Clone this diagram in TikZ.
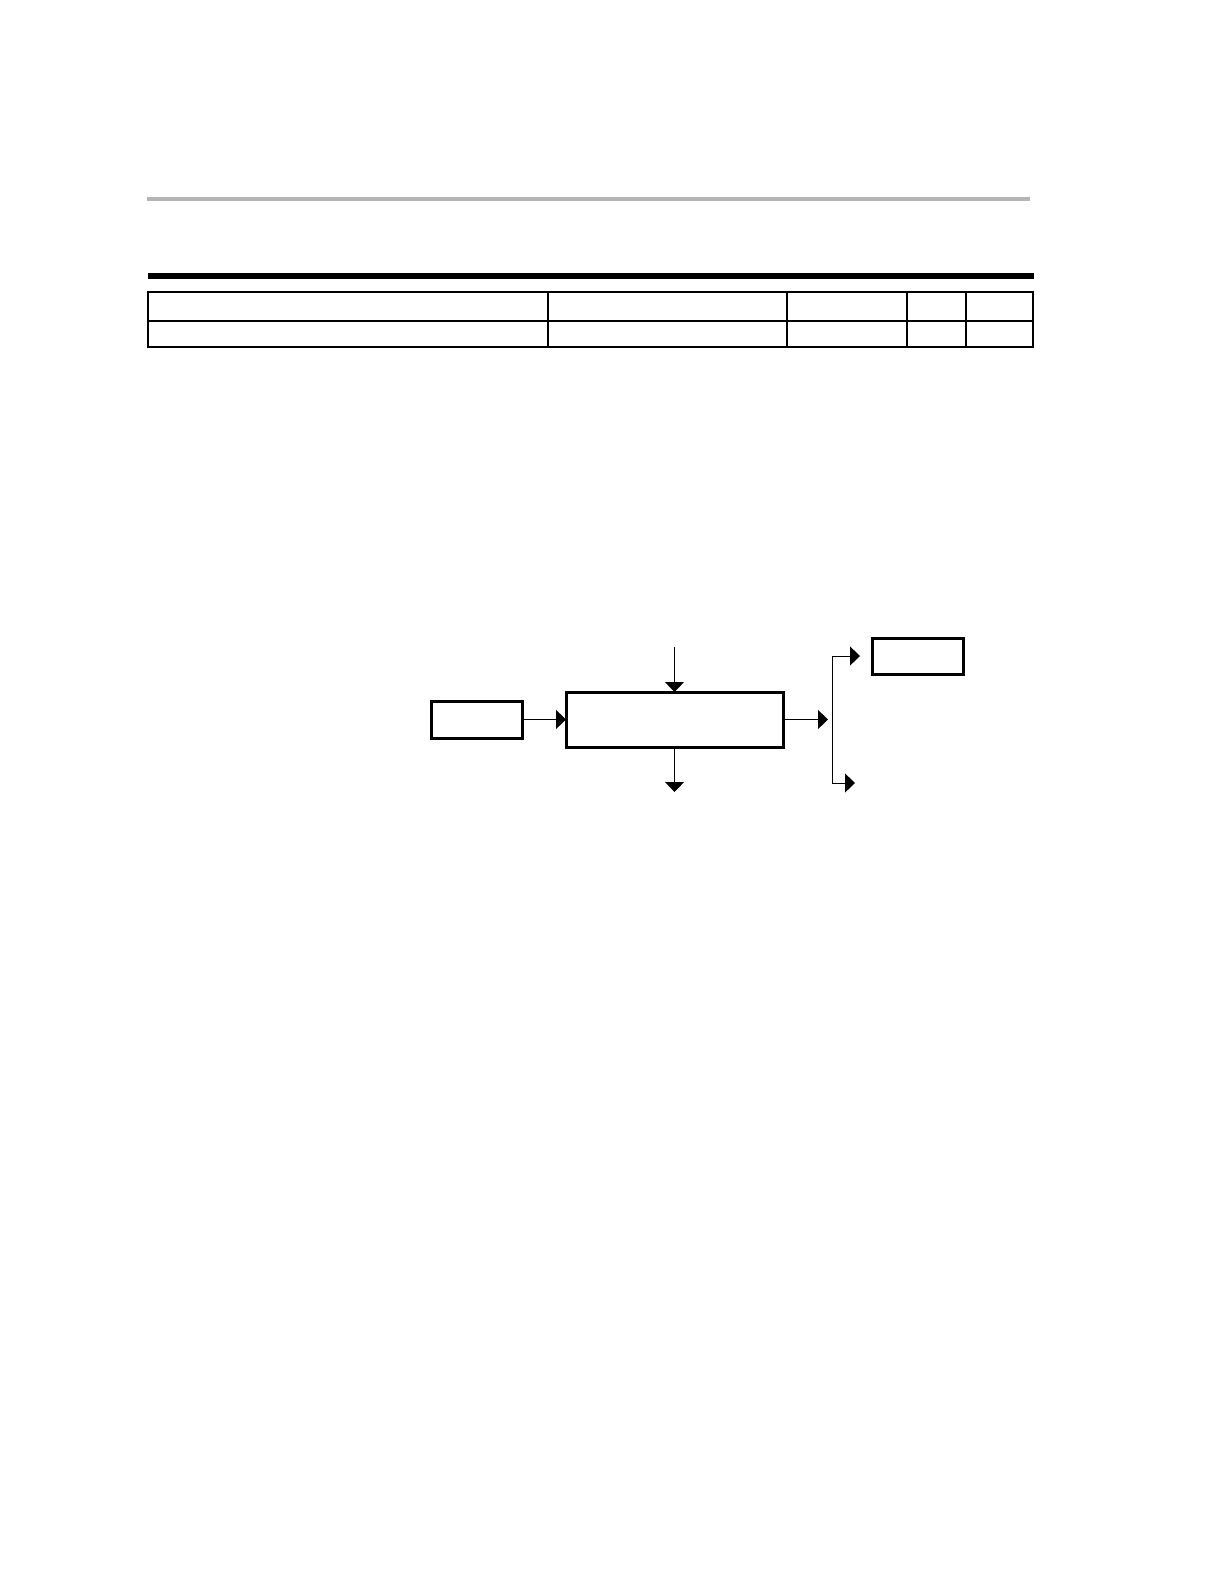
\documentclass[tikz,border=0pt]{standalone}
\usetikzlibrary{arrows.meta}
\definecolor{rulegray}{gray}{0.71}
\begin{document}
\begin{tikzpicture}[line cap=butt,line join=miter,>={Triangle[width=9.5bp,length=5bp]},x=.5bp,y=-.5bp,
	blk/.style={draw,line width=1.5bp,minimum width=45.5bp,minimum height=18.5bp,inner sep=0pt,outer sep=0pt},
	wire/.style={line width=.5bp,->}]
		\useasboundingbox (0,0) rectangle (1224,1584);
		% header rules
		\draw[line width=2bp,color=rulegray] (147,199)--(1030,199);
		\draw[line width=3bp] (148,276)--(1034,276);
		% table
		\draw[line width=1bp] (148,292) rectangle (1033,347);
		\draw[line width=1bp] (148,320.5)--(1033,320.5);
		\foreach \cx in {548,787,907,966}
			\draw[line width=1bp] (\cx,292)--(\cx,347);
		% block diagram
		\node[blk] (src) at (476.5,719.5) {};
		\node[blk,minimum width=108.5bp,minimum height=27.5bp] (proc) at (674.5,719.5) {};
		\node[blk,minimum height=18bp] (dst) at (917.5,656) {};
		\coordinate (feed) at (674.5,647);
		\coordinate (drain) at (674.5,792);
		\coordinate (jn) at (832,719.5);
		\coordinate (outB) at (855,783);
		\draw[wire] (feed)--(proc.north);
		\draw[wire] (proc.south)--(drain);
		\draw[wire] (src.east)--(proc.west);
		\draw[wire] (proc.east)--([xshift=-2bp]jn);
		\draw[line width=.5bp] (jn|-dst.west)--(jn|-outB);
		\draw[wire] (jn|-dst.west)--([xshift=-6bp]dst.west);
		\draw[wire] (jn|-outB)--(outB);
	\end{tikzpicture}
\end{document}
